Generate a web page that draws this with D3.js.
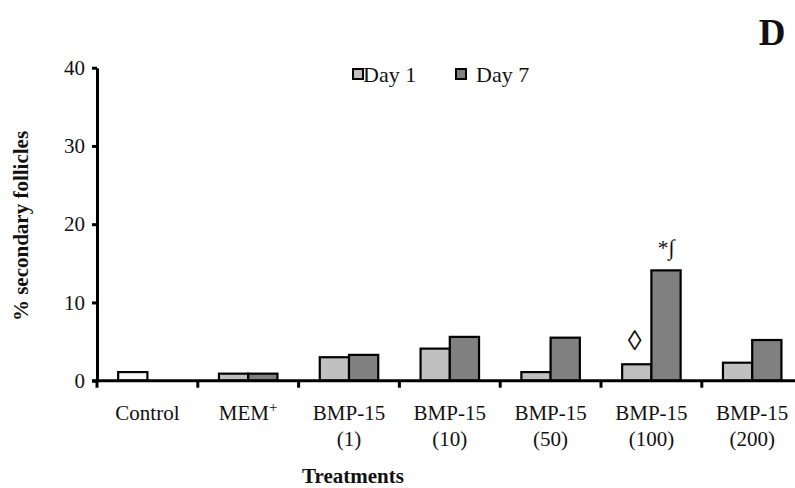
<!DOCTYPE html>
<html>
<head>
<meta charset="utf-8">
<script src="https://cdn.jsdelivr.net/npm/d3@7"></script>
<style>
  html, body { margin: 0; padding: 0; background: #fff; }
  svg { display: block; }
  text { font-family: "Liberation Serif", "Times New Roman", serif; fill: #111; }
</style>
</head>
<body>
<svg id="chart" width="795" height="488"></svg>
<script>
// ---- data ----
const categories = ["Control", "MEM+", "BMP-15 (1)", "BMP-15 (10)", "BMP-15 (50)", "BMP-15 (100)", "BMP-15 (200)"];
const labelLine1 = ["Control", "MEM", "BMP-15", "BMP-15", "BMP-15", "BMP-15", "BMP-15"];
const labelLine2 = ["", "", "(1)", "(10)", "(50)", "(100)", "(200)"];
const seriesNames = ["Day 1", "Day 7"];
const day1 = [1.1, 0.9, 3.0, 4.1, 1.1, 2.1, 2.3];
const day7 = [null, 0.9, 3.3, 5.6, 5.5, 14.1, 5.2];
const yTicks = [0, 10, 20, 30, 40];
const annotations = [
  { category: "BMP-15 (100)", series: "Day 1", text: "\u25CA" },
  { category: "BMP-15 (100)", series: "Day 7", text: "*\u222B" }
];

// ---- layout ----
const svg = d3.select("#chart");
const x0Left = 97, step = 100.8;
const x0 = d3.scaleBand().domain(categories)
  .range([x0Left, x0Left + step * categories.length])
  .paddingInner(0.42).paddingOuter(0.21);
const x1 = d3.scaleBand().domain(seriesNames).range([0, x0.bandwidth()]);
const y = d3.scaleLinear().domain([0, 40]).range([380.7, 67.7]);
const colors = { "Day 1": "#c0c0c0", "Day 7": "#808080" };

const rows = [];
categories.forEach((c, i) => {
  rows.push({ c, s: "Day 1", v: day1[i] });
  rows.push({ c, s: "Day 7", v: day7[i] });
});

// bars
svg.append("g").selectAll("rect")
  .data(rows.filter(d => d.v != null))
  .join("rect")
  .attr("x", d => x0(d.c) + x1(d.s))
  .attr("y", d => y(d.v))
  .attr("width", x1.bandwidth())
  .attr("height", d => y(0) - y(d.v))
  .attr("fill", d => d.c === "Control" ? "#f8f8f8" : colors[d.s])
  .attr("stroke", "#000")
  .attr("stroke-width", 2.2);

// y axis
const yAxis = d3.axisLeft(y).tickValues(yTicks).tickSize(5).tickPadding(7).tickSizeOuter(0);
const gy = svg.append("g").attr("transform", `translate(${x0Left},0)`).call(yAxis);
gy.select(".domain").attr("stroke", "#000").attr("stroke-width", 3);
gy.selectAll(".tick line").attr("stroke", "#000").attr("stroke-width", 3);
gy.selectAll(".tick text").style("font-size", "21px")
  .style("font-family", "'Liberation Serif', 'Times New Roman', serif").attr("fill", "#222");

// x axis: baseline with ticks at category boundaries
const boundaries = categories.map(c => x0(c) - x0.step() * x0.paddingInner() / 2);
boundaries[0] = x0Left;
svg.append("line")
  .attr("x1", x0Left - 5).attr("x2", x0Left + step * categories.length)
  .attr("y1", y(0)).attr("y2", y(0))
  .attr("stroke", "#000").attr("stroke-width", 3);
svg.append("g").selectAll("line").data(boundaries).join("line")
  .attr("x1", d => d).attr("x2", d => d)
  .attr("y1", y(0)).attr("y2", y(0) + 7)
  .attr("stroke", "#000").attr("stroke-width", 3);

// x labels
const lab = svg.append("g").selectAll("text").data(categories).join("text")
  .attr("x", d => x0(d) + x0.bandwidth() / 2)
  .attr("y", 420)
  .attr("text-anchor", "middle")
  .style("font-size", "21px");
lab.append("tspan").text((d, i) => labelLine1[i]);
lab.filter(d => d === "MEM+").append("tspan")
  .attr("dy", -8).style("font-size", "15px").text("+");
svg.append("g").selectAll("text").data(categories).join("text")
  .attr("x", d => x0(d) + x0.bandwidth() / 2)
  .attr("y", 446)
  .attr("text-anchor", "middle")
  .style("font-size", "21px")
  .text((d, i) => labelLine2[i]);

// axis titles
svg.append("text").attr("x", 353).attr("y", 483)
  .attr("text-anchor", "middle").style("font-size", "21px").style("font-weight", "bold")
  .text("Treatments");
svg.append("text")
  .attr("transform", `translate(28,226) rotate(-90)`)
  .attr("text-anchor", "middle").style("font-size", "21px").style("font-weight", "bold")
  .text("% secondary follicles");

// panel letter
svg.append("text").attr("x", 772).attr("y", 45)
  .attr("text-anchor", "middle").style("font-size", "37px").style("font-weight", "bold")
  .text("D");

// legend
const legend = svg.append("g");
const legendItems = [{ s: "Day 1", x: 353, tx: 363 }, { s: "Day 7", x: 456, tx: 476 }];
legendItems.forEach(it => {
  legend.append("rect").attr("x", it.x).attr("y", 69).attr("width", 10).attr("height", 10)
    .attr("fill", colors[it.s]).attr("stroke", "#000").attr("stroke-width", 2);
  legend.append("text").attr("x", it.tx).attr("y", 82)
    .style("font-size", "22px").text(it.s);
});

// annotations
svg.append("g").selectAll("text").data(annotations).join("text")
  .attr("x", d => x0(d.category) + x1(d.series) + x1.bandwidth() / 2 + (d.series === "Day 1" ? -2 : 0))
  .attr("y", d => {
    const i = categories.indexOf(d.category);
    const v = d.series === "Day 1" ? day1[i] : day7[i];
    return y(v) - (d.series === "Day 1" ? 14 : 15);
  })
  .attr("text-anchor", "middle")
  .style("font-size", d => d.series === "Day 1" ? "28px" : "22px")
  .text(d => d.text);
</script>
</body>
</html>
